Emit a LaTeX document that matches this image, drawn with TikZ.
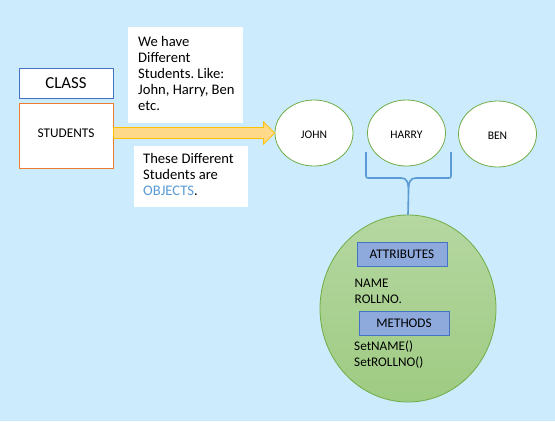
\documentclass[tikz,border=0pt]{standalone}
\usepackage{fontspec}
\setmainfont{Carlito}
\usetikzlibrary{shapes.geometric}
\definecolor{bgc}{HTML}{CCEBFC}
\definecolor{cblue}{HTML}{4472C4}
\definecolor{corange}{HTML}{ED7D31}
\definecolor{cgreen}{HTML}{70AD47}
\definecolor{lblue}{HTML}{5B9BD5}
\definecolor{afill}{HTML}{FFD98A}
\definecolor{aline}{HTML}{FFC000}
\definecolor{boxfill}{HTML}{8EA9DB}
\definecolor{gtop}{HTML}{B5D7A1}
\definecolor{gbot}{HTML}{9ECB82}
\tikzset{
  sz/.style={font=\fontsize{#1}{#1}\selectfont},
  txtbox/.style={fill=white, draw=none, inner sep=0pt},
  person/.style={ellipse, draw=cgreen, fill=white, line width=0.8pt, minimum width=78pt, minimum height=66pt, inner sep=0pt},
  hdrbox/.style={rectangle, draw=cblue, fill=boxfill, line width=0.8pt, minimum width=90pt, minimum height=24pt, inner sep=0pt},
  line/.style={sz=14.6, anchor=base west, inner sep=0pt},
  cline/.style={sz=13.2, anchor=base west, inner sep=0pt},
  ctext/.style={anchor=base, inner sep=0pt},
}
\begin{document}
\frenchspacing
\begin{tikzpicture}[x=1pt,y=-1pt]
\fill[bgc] (0,0) rectangle (555,421);
\useasboundingbox (0,0) rectangle (555,421);

% class boxes
\node[draw=cblue, fill=white, line width=0.8pt, minimum width=94pt, minimum height=30pt, inner sep=0pt] (class) at (66,83) {};
\node[ctext, sz=16.8] (classtxt) at (66,88) {CLASS};
\node[draw=corange, fill=white, line width=0.8pt, minimum width=94pt, minimum height=65pt, inner sep=0pt] (students) at (66,135.5) {};
\node[ctext, sz=13.3] (stxt) at (66,137) {STUDENTS};

% text boxes
\node[txtbox, minimum width=115pt, minimum height=96pt] (t1) at (185.5,75) {};
\node[line] (l1) at (138,46) {We have};
\node[line] (l2) at (138,62) {Different};
\node[line] (l3) at (138,78) {Students. Like:};
\node[line] (l4) at (138,94) {John, Harry, Ben};
\node[line] (l5) at (138,110) {etc.};
\node[txtbox, minimum width=114pt, minimum height=61pt] (t2) at (191,176.5) {};
\node[line] (m1) at (143,163) {These Different};
\node[line] (m2) at (143,179) {Students are};
\node[line] (m3) at (143,195) {\textcolor{lblue}{OBJECTS}.};

% persons
\node[person] (john) at (314,133) {};
\node[person] (harry) at (406.5,133) {};
\node[person] (ben) at (497.5,134) {};
\node[ctext, sz=11.6] (jt) at (314,138) {JOHN};
\node[ctext, sz=11.6] (ht) at (406.5,138) {HARRY};
\node[ctext, sz=11.6] (bt) at (497.5,139) {BEN};

% block arrow
\coordinate (as) at (students.east |- 0,133);
\coordinate (ae) at (john.west);
\draw[draw=aline, fill=afill, line width=0.8pt]
  ([yshift=-5.5pt]as) -- ([xshift=-11pt,yshift=-5.5pt]ae) -- ([xshift=-11pt,yshift=-11pt]ae) -- (ae)
  -- ([xshift=-11pt,yshift=11pt]ae) -- ([xshift=-11pt,yshift=5.5pt]ae) -- ([yshift=5.5pt]as) -- cycle;

% big circle
\node[ellipse, draw=cgreen, line width=0.8pt, top color=gtop, bottom color=gbot, minimum width=176pt, minimum height=187pt, inner sep=0pt] (obj) at (408,308.5) {};

% brace
\coordinate (bl) at (366,152);
\coordinate (br) at (451,152);
\draw[lblue, line width=1.6pt, line join=round]
  (bl) -- (366,174) .. controls (366,178) .. (370,178) -- (401,178)
  .. controls (407,178) and (408.5,182) .. (408.5,192) -- (obj.north)
  (br) -- (451,174) .. controls (451,178) .. (447,178) -- (416,178)
  .. controls (410,178) and (408.5,182) .. (408.5,192);

% contents
\node[hdrbox] (attr) at (402,254) {};
\node[ctext, sz=13.2] (attrt) at (402,258) {ATTRIBUTES};
\node[cline] (name) at (354.5,287) {NAME};
\node[cline] (roll) at (354.5,303) {ROLLNO.};
\node[hdrbox] (meth) at (404,323.5) {};
\node[ctext, sz=13.2] (metht) at (404,327) {METHODS};
\node[cline] (setn) at (354,350) {SetNAME()};
\node[cline] (setr) at (354,366) {SetROLLNO()};
\end{tikzpicture}
\end{document}
